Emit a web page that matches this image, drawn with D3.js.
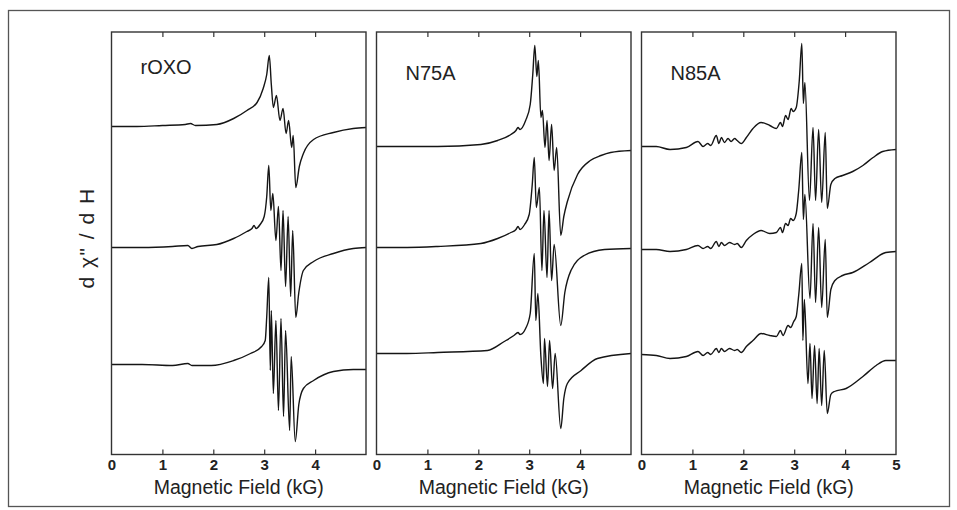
<!DOCTYPE html>
<html>
<head>
<meta charset="utf-8">
<script src="https://cdn.jsdelivr.net/npm/d3@7"></script>
<style>
  body { margin: 0; background: #ffffff; }
  svg { display: block; }
</style>
</head>
<body>
<div id="chart"></div>
<script>
//----------------------------------------------------------------
// data read off the spectra : [field (kG), signal (a.u.)]
var panelNames = ["rOXO", "N75A", "N85A"];

var roxoTop = [[0,0],[0.5,0],[1.0,1],[1.45,2],[1.55,3],[1.65,1],[2.07,2],[2.4,8],[2.66,16],[2.86,24],[2.98,38],[3.05,52],[3.10,71],[3.14,42],[3.18,19],[3.24,31],[3.31,6],[3.37,18],[3.43,-7],[3.48,6],[3.54,-21],[3.57,-9],[3.62,-61],[3.69,-40],[3.77,-27],[3.97,-13],[4.36,-6],[4.75,-2],[5,-1]];
var roxoMid = [[0,0],[0.6,0],[1.2,1],[1.5,2],[1.58,-1],[1.7,1],[2.07,3],[2.4,9],[2.66,16],[2.76,19],[2.8,22],[2.84,19],[2.92,23],[3.0,31],[3.05,51],[3.09,82],[3.13,37],[3.17,54],[3.23,7],[3.28,41],[3.33,-23],[3.37,37],[3.42,-39],[3.47,31],[3.52,-49],[3.56,17],[3.62,-70],[3.68,-45],[3.77,-23],[3.97,-14],[4.36,-6],[4.75,-1],[5,0]];
var roxoBot = [[0,0],[0.6,0],[1.2,-1],[1.5,1],[1.58,-1],[1.96,-1],[2.4,4],[2.73,11],[2.95,18],[3.02,24],[3.05,48],[3.09,87],[3.12,-6],[3.14,54],[3.18,-29],[3.23,44],[3.28,-46],[3.33,46],[3.38,-52],[3.42,34],[3.50,-66],[3.53,8],[3.61,-77],[3.68,-40],[3.77,-24],[3.97,-16],[4.36,-7],[4.75,-5],[5,-5]];

var n75aTop = [[0,0],[0.6,0],[1.2,0],[2.05,2],[2.38,6],[2.64,12],[2.74,16],[2.78,19],[2.82,17],[2.93,26],[3.02,42],[3.07,72],[3.11,101],[3.15,70],[3.18,86],[3.23,29],[3.26,36],[3.31,-1],[3.35,26],[3.39,-14],[3.44,22],[3.49,-24],[3.54,-1],[3.62,-89],[3.68,-70],[3.75,-55],[3.95,-28],[4.2,-14],[4.41,-9],[4.6,-6],[5,-4]];
var n75aMid = [[0,0],[0.6,0],[1.2,1],[2.05,4],[2.38,9],[2.64,15],[2.74,18],[2.78,21],[2.82,18],[2.91,23],[3.0,33],[3.06,63],[3.10,90],[3.14,40],[3.20,60],[3.25,-23],[3.29,37],[3.35,-30],[3.39,37],[3.44,-33],[3.49,3],[3.62,-78],[3.7,-45],[3.82,-23],[4.08,-8],[4.48,-2],[5,-1]];
var n75aBot = [[0,0],[0.6,0],[1.2,1],[2.18,3],[2.51,12],[2.7,18],[2.78,21],[2.82,19],[2.93,25],[3.02,40],[3.10,100],[3.13,33],[3.17,60],[3.23,-3],[3.28,-30],[3.30,15],[3.36,-33],[3.40,13],[3.46,-35],[3.51,0],[3.62,-75],[3.68,-45],[3.75,-30],[4.02,-17],[4.34,-5],[5,0]];

var n85aTop = [[0,0],[0.29,0],[0.56,-3],[0.88,-1],[1.11,5],[1.21,0],[1.3,3],[1.36,1],[1.47,11],[1.52,3],[1.57,9],[1.63,4],[1.7,8],[1.76,5],[1.83,8],[1.88,6],[1.96,3],[2.06,9],[2.19,18],[2.35,24],[2.52,21],[2.65,18],[2.73,24],[2.77,20],[2.83,31],[2.88,27],[2.94,38],[2.98,35],[3.04,39],[3.1,66],[3.15,103],[3.18,43],[3.21,64],[3.3,-54],[3.37,19],[3.42,-54],[3.48,17],[3.54,-56],[3.61,14],[3.65,-62],[3.72,-38],[3.8,-32],[3.95,-29],[4.15,-25],[4.35,-19],[4.55,-11],[4.74,-5],[5,-3]];
var n85aMid = [[0,0],[0.29,0],[0.56,-2],[0.88,0],[1.11,4],[1.21,1],[1.3,3],[1.36,1],[1.47,8],[1.52,3],[1.57,7],[1.63,4],[1.73,7],[1.83,5],[1.88,6],[1.96,2],[2.06,9],[2.19,15],[2.35,19],[2.52,16],[2.65,17],[2.73,22],[2.77,17],[2.83,26],[2.88,24],[2.93,31],[2.98,29],[3.04,36],[3.09,60],[3.15,97],[3.18,30],[3.21,55],[3.31,-49],[3.37,26],[3.42,-53],[3.48,22],[3.54,-58],[3.61,10],[3.65,-68],[3.72,-40],[3.8,-31],[3.95,-26],[4.15,-23],[4.48,-13],[4.8,-3],[5,-2]];
var n85aBot = [[0,0],[0.29,-1],[0.56,-4],[0.88,-2],[1.11,3],[1.21,-1],[1.3,2],[1.36,0],[1.47,6],[1.52,2],[1.57,6],[1.63,3],[1.73,6],[1.83,4],[1.88,5],[1.96,2],[2.06,8],[2.19,14],[2.35,21],[2.52,19],[2.65,18],[2.73,24],[2.78,19],[2.88,29],[2.93,27],[2.99,33],[3.04,38],[3.09,60],[3.15,91],[3.17,14],[3.2,55],[3.27,-29],[3.31,11],[3.35,-44],[3.4,9],[3.45,-49],[3.49,6],[3.54,-51],[3.59,4],[3.65,-59],[3.72,-40],[3.79,-37],[4.02,-34],[4.35,-22],[4.61,-11],[4.8,-6],[5,-6]];

var panelTraces = [[roxoTop, roxoMid, roxoBot], [n75aTop, n75aMid, n75aBot], [n85aTop, n85aMid, n85aBot]];
// vertical stacking offsets of the three spectra (a.u.)
var traceOffsets = [[328, 207, 90], [308, 207, 101], [308, 205, 100]];
var fieldTicks = [1, 2, 3, 4];
var tickLabels = [[0, 1, 2, 3, 4], [0, 1, 2, 3, 4], [0, 1, 2, 3, 4, 5]];

//----------------------------------------------------------------
// svg
var largeur = 957, hauteur = 510;
var svg = d3.select("#chart")
  .append("svg")
  .attr("width", largeur)
  .attr("height", hauteur)
  .style("font-family", "Liberation Sans, Arial, sans-serif");

// outer frame of the figure
svg.append("rect")
  .attr("x", 8.5).attr("y", 10.5)
  .attr("width", 941).attr("height", 496)
  .attr("fill", "none")
  .attr("stroke", "#555")
  .attr("stroke-width", 1.3);

var panelLeft = [111.5, 376.5, 641.5], panelWidth = 254.5;
var panelTop = 32, panelBottom = 454.5;

var y = d3.scaleLinear()
  .domain([0, panelBottom - panelTop])
  .range([panelBottom, panelTop]);

//----------------------------------------------------------------
// one panel per sample
panelNames.forEach(function(name, i) {
  var x = d3.scaleLinear()
    .domain([0, 5])
    .range([panelLeft[i], panelLeft[i] + panelWidth]);
  var g = svg.append("g");

  panelTraces[i].forEach(function(trace, j) {
    var off = traceOffsets[i][j];
    var line = d3.line()
      .x(function(d) { return x(d[0]); })
      .y(function(d) { return y(d[1] + off); })
      .curve(d3.curveMonotoneX);
    g.append("path")
      .datum(trace)
      .attr("d", line)
      .attr("fill", "none")
      .attr("stroke", "#151515")
      .attr("stroke-width", 1.4)
      .attr("stroke-linejoin", "round");
  });

  // inward ticks top and bottom
  var bottomTicks = g.append("g")
    .attr("transform", "translate(0," + panelBottom + ")")
    .call(d3.axisBottom(x).tickValues(fieldTicks).tickSizeInner(-5).tickSizeOuter(0).tickFormat(""));
  var topTicks = g.append("g")
    .attr("transform", "translate(0," + panelTop + ")")
    .call(d3.axisTop(x).tickValues(fieldTicks).tickSizeInner(-5).tickSizeOuter(0).tickFormat(""));
  [bottomTicks, topTicks].forEach(function(a) {
    a.select(".domain").remove();
    a.selectAll("line").attr("stroke", "#333").attr("stroke-width", 1.2);
  });

  // tick labels
  var labels = g.append("g")
    .attr("transform", "translate(0," + panelBottom + ")")
    .call(d3.axisBottom(x).tickValues(tickLabels[i]).tickSize(0).tickPadding(5).tickFormat(d3.format("d")));
  labels.select(".domain").remove();
  labels.selectAll("text")
    .attr("font-family", "Liberation Sans, Arial, sans-serif")
    .attr("font-size", 15)
    .attr("font-weight", "bold")
    .attr("fill", "#222");

  // panel frame
  g.append("rect")
    .attr("x", panelLeft[i]).attr("y", panelTop)
    .attr("width", panelWidth).attr("height", panelBottom - panelTop)
    .attr("fill", "none")
    .attr("stroke", "#333")
    .attr("stroke-width", 1.4);

  // x title
  g.append("text")
    .attr("x", panelLeft[i] + panelWidth / 2)
    .attr("y", 494)
    .attr("text-anchor", "middle")
    .attr("font-size", 19.5)
    .attr("fill", "#222")
    .text("Magnetic Field (kG)");

  // sample name
  g.append("text")
    .attr("x", panelLeft[i] + 29)
    .attr("y", i === 0 ? 74 : 80)
    .attr("font-size", 20)
    .attr("fill", "#222")
    .text(name);
});

//----------------------------------------------------------------
// y title
svg.append("text")
  .attr("transform", "translate(94,238) rotate(-90)")
  .attr("text-anchor", "middle")
  .attr("font-size", 21)
  .attr("letter-spacing", 1.5)
  .attr("fill", "#222")
  .text("d \u03C7\" / d H");
</script>
</body>
</html>
